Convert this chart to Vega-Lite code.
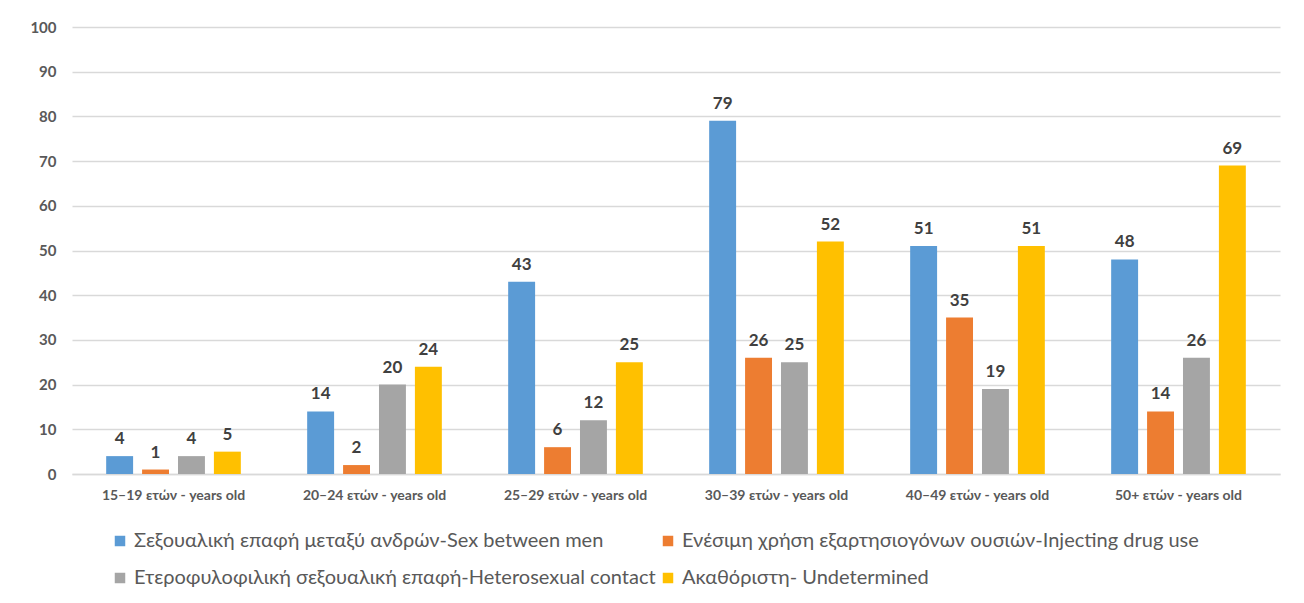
{
  "$schema": "https://vega.github.io/schema/vega-lite/v6.json",
  "width": 1208,
  "height": 447,
  "autosize": {"type": "none"},
  "padding": {"left": 72, "top": 27, "right": 24, "bottom": 129},
  "background": "white",
  "config": {"view": {"stroke": null}, "font": "Lato"},
  "data": {
    "values": [
      {"age": "15–19 ετών - years old", "cat": "Σεξουαλική επαφή μεταξύ ανδρών-Sex between men", "value": 4},
      {"age": "15–19 ετών - years old", "cat": "Ενέσιμη χρήση εξαρτησιογόνων ουσιών-Injecting drug use", "value": 1},
      {"age": "15–19 ετών - years old", "cat": "Ετεροφυλοφιλική σεξουαλική επαφή-Heterosexual contact", "value": 4},
      {"age": "15–19 ετών - years old", "cat": "Ακαθόριστη- Undetermined", "value": 5},
      {"age": "20–24 ετών - years old", "cat": "Σεξουαλική επαφή μεταξύ ανδρών-Sex between men", "value": 14},
      {"age": "20–24 ετών - years old", "cat": "Ενέσιμη χρήση εξαρτησιογόνων ουσιών-Injecting drug use", "value": 2},
      {"age": "20–24 ετών - years old", "cat": "Ετεροφυλοφιλική σεξουαλική επαφή-Heterosexual contact", "value": 20},
      {"age": "20–24 ετών - years old", "cat": "Ακαθόριστη- Undetermined", "value": 24},
      {"age": "25–29 ετών - years old", "cat": "Σεξουαλική επαφή μεταξύ ανδρών-Sex between men", "value": 43},
      {"age": "25–29 ετών - years old", "cat": "Ενέσιμη χρήση εξαρτησιογόνων ουσιών-Injecting drug use", "value": 6},
      {"age": "25–29 ετών - years old", "cat": "Ετεροφυλοφιλική σεξουαλική επαφή-Heterosexual contact", "value": 12},
      {"age": "25–29 ετών - years old", "cat": "Ακαθόριστη- Undetermined", "value": 25},
      {"age": "30–39 ετών - years old", "cat": "Σεξουαλική επαφή μεταξύ ανδρών-Sex between men", "value": 79},
      {"age": "30–39 ετών - years old", "cat": "Ενέσιμη χρήση εξαρτησιογόνων ουσιών-Injecting drug use", "value": 26},
      {"age": "30–39 ετών - years old", "cat": "Ετεροφυλοφιλική σεξουαλική επαφή-Heterosexual contact", "value": 25},
      {"age": "30–39 ετών - years old", "cat": "Ακαθόριστη- Undetermined", "value": 52},
      {"age": "40–49 ετών - years old", "cat": "Σεξουαλική επαφή μεταξύ ανδρών-Sex between men", "value": 51},
      {"age": "40–49 ετών - years old", "cat": "Ενέσιμη χρήση εξαρτησιογόνων ουσιών-Injecting drug use", "value": 35},
      {"age": "40–49 ετών - years old", "cat": "Ετεροφυλοφιλική σεξουαλική επαφή-Heterosexual contact", "value": 19},
      {"age": "40–49 ετών - years old", "cat": "Ακαθόριστη- Undetermined", "value": 51},
      {"age": "50+ ετών - years old", "cat": "Σεξουαλική επαφή μεταξύ ανδρών-Sex between men", "value": 48},
      {"age": "50+ ετών - years old", "cat": "Ενέσιμη χρήση εξαρτησιογόνων ουσιών-Injecting drug use", "value": 14},
      {"age": "50+ ετών - years old", "cat": "Ετεροφυλοφιλική σεξουαλική επαφή-Heterosexual contact", "value": 26},
      {"age": "50+ ετών - years old", "cat": "Ακαθόριστη- Undetermined", "value": 69}
    ]
  },
  "encoding": {
    "x": {
      "field": "age",
      "type": "nominal",
      "sort": null,
      "scale": {"paddingInner": 0.33, "paddingOuter": 0.17},
      "axis": {
        "title": null,
        "labelAngle": 0,
        "labelFontSize": 14,
        "labelFontWeight": "bold",
        "labelColor": "#595959",
        "ticks": false,
        "domain": true,
        "domainColor": "#d9d9d9",
        "domainWidth": 1.5,
        "labelPadding": 14,
        "labelLimit": 300
      }
    },
    "xOffset": {
      "field": "cat",
      "type": "nominal",
      "sort": null,
      "scale": {"paddingInner": 0.25, "paddingOuter": 0}
    },
    "y": {
      "field": "value",
      "type": "quantitative",
      "scale": {"domain": [0, 100]},
      "axis": {
        "title": null,
        "values": [0, 10, 20, 30, 40, 50, 60, 70, 80, 90, 100],
        "labelFontSize": 15,
        "labelFontWeight": "bold",
        "labelColor": "#595959",
        "labelPadding": 16,
        "ticks": false,
        "domain": false,
        "grid": true,
        "gridColor": "#d9d9d9",
        "gridWidth": 1.5
      }
    }
  },
  "layer": [
    {
      "mark": {"type": "bar"},
      "encoding": {
        "color": {
          "field": "cat",
          "type": "nominal",
          "sort": null,
          "scale": {
            "domain": [
              "Σεξουαλική επαφή μεταξύ ανδρών-Sex between men",
              "Ενέσιμη χρήση εξαρτησιογόνων ουσιών-Injecting drug use",
              "Ετεροφυλοφιλική σεξουαλική επαφή-Heterosexual contact",
              "Ακαθόριστη- Undetermined"
            ],
            "range": ["#5B9BD5", "#ED7D31", "#A5A5A5", "#FFC000"]
          },
          "legend": {
            "title": null,
            "orient": "none",
            "legendX": 38,
            "legendY": 504,
            "columns": 2,
            "direction": "horizontal",
            "symbolType": "square",
            "symbolSize": 110,
            "symbolStrokeWidth": 0,
            "labelFontSize": 20,
            "labelColor": "#595959",
            "labelOffset": 4,
            "columnPadding": 2,
            "rowPadding": 17,
            "labelLimit": 800,
            "padding": 0
          }
        }
      }
    },
    {
      "mark": {"type": "text", "baseline": "bottom", "dy": -8, "fontWeight": "bold", "fontSize": 17, "color": "#404040"},
      "encoding": {"text": {"field": "value", "type": "quantitative"}}
    }
  ]
}
